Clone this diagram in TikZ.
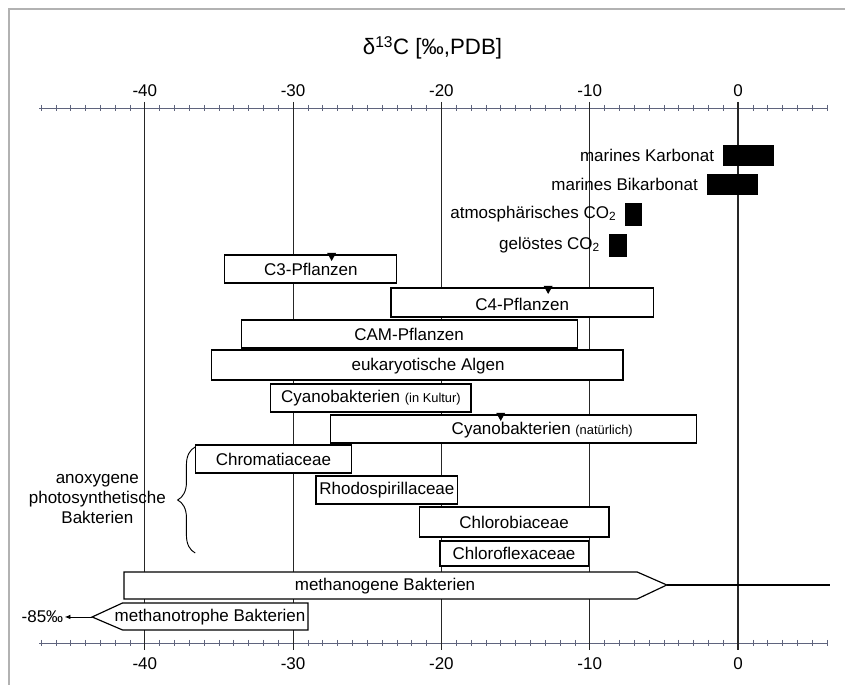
\documentclass[tikz,border=0pt]{standalone}
\usepackage{fontspec}
\setmainfont{Liberation Sans}
\usetikzlibrary{positioning,fit,decorations.pathreplacing,arrows.meta}
\definecolor{achse}{RGB}{95,100,125}
\newcommand{\klein}{\fontsize{11}{13}\selectfont}

\begin{document}
\begin{tikzpicture}[x=0.4449cm,y=-0.03cm,
  bar/.style={draw=black,line width=1pt,fill=white,inner sep=0pt},
  blk/.style={draw=black,fill=black,inner sep=0pt},
  lbl/.style={font=\fontsize{14.5}{17}\selectfont},
  spitze/.style={fill=black}]
\useasboundingbox (-49.764,0) rectangle (7.215,685);
\fill[white] (-49.764,0) rectangle (7.215,685);
% Rahmen
\draw[gray!60,line width=1.6pt] (-49.16,685) -- (-49.16,9) -- (7.215,9);
\node[font=\fontsize{19}{22}\selectfont] (titel) at (-20.6,48) {δ\textsuperscript{13}C [‰,PDB]};
% Achsen
\draw[achse,line width=0.8pt] (-47.1,108) -- (6.1,108);
\draw[achse,line width=0.8pt] (-47.1,643) -- (6.1,643);
\foreach \t in {-47,...,6} {
  \draw[achse,line width=0.5pt] (\t,105) -- (\t,111);
  \draw[achse,line width=0.5pt] (\t,640) -- (\t,646);
}
\foreach \t in {-40,-30,...,0} {
  \draw[gray!30!black,line width=0.9pt] (\t,102) -- (\t,650);
  \node[lbl] (oben\t) at (\t,91) {\t};
  \node[lbl] (unten\t) at (\t,664) {\t};
}
% Karbonat und CO2
\node[blk,fit={(-1.0,145) (2.35,165)}] (karb) {};
\node[lbl,left=4pt of karb] (karbT) {marines Karbonat};
\node[blk,fit={(-2.1,174) (1.3,194)}] (bikarb) {};
\node[lbl,left=4pt of bikarb] (bikarbT) {marines Bikarbonat};
\node[blk,fit={(-7.6,203) (-6.5,225)}] (atmo) {};
\node[lbl,left=4pt of atmo] (atmoT) {atmosphärisches CO\textsubscript{2}};
\node[blk,fit={(-8.7,234) (-7.55,256)}] (geloest) {};
\node[lbl,left=4pt of geloest] (geloestT) {gelöstes CO\textsubscript{2}};
% Pflanzen und Algen
\node[bar,fit={(-34.6,255) (-23.0,283)}] (c3) {};
\node[lbl] (c3T) at (c3.center) {C3-Pflanzen};
\node[bar,fit={(-23.4,288) (-5.7,317)}] (c4) {};
\node[lbl] (c4T) at ([yshift=-2pt]c4.center) {C4-Pflanzen};
\node[bar,fit={(-33.5,320) (-10.85,348)}] (cam) {};
\node[lbl] (camT) at (cam.center) {CAM-Pflanzen};
\node[bar,fit={(-35.5,350) (-7.75,380)}] (algen) {};
\node[lbl] (algenT) at (-20.9,366) {eukaryotische Algen};
\node[bar,fit={(-31.5,384) (-18.0,412)}] (cyk) {};
\node[lbl] (cykT) at (cyk.center) {Cyanobakterien {\klein (in Kultur)}};
\node[bar,fit={(-27.5,415) (-2.8,443)}] (cyn) {};
\node[lbl] (cynT) at (-13.2,430) {Cyanobakterien {\klein (natürlich)}};
\foreach \m/\y in {-27.4/255,-12.8/288,-16.0/415}
  \fill[spitze] (\m-0.3,\y-2) -- (\m+0.3,\y-2) -- (\m,\y+6) -- cycle;
% Bakterien
\node[bar,fit={(-36.6,445) (-26.05,473)}] (chrom) {};
\node[lbl] (chromT) at (chrom.center) {Chromatiaceae};
\node[bar,fit={(-28.45,476) (-18.9,504)}] (rhodo) {};
\node[lbl] (rhodoT) at (rhodo.center) {Rhodospirillaceae};
\node[bar,fit={(-21.5,507) (-8.7,537)}] (chlb) {};
\node[lbl] (chlbT) at (chlb.center) {Chlorobiaceae};
\node[bar,fit={(-20.1,541) (-10.1,566)}] (chlf) {};
\node[lbl] (chlfT) at (chlf.center) {Chloroflexaceae};
\draw[decorate,decoration={brace,amplitude=15pt},line width=0.8pt] (-36.6,553) -- (-36.6,447);
\node[lbl,align=center] (anox) at (-43.2,499) {anoxygene\\photosynthetische\\Bakterien};
% methanogen / methanotroph
\coordinate (mgSpitze) at (-4.8,585);
\coordinate (mgEnde) at (6.2,585);
\draw[bar] (-41.4,572) -- (-6.8,572) -- (mgSpitze) -- (-6.8,599) -- (-41.4,599) -- cycle;
\draw[line width=1.3pt] (mgSpitze) -- (mgEnde);
\node[lbl] (mgT) at (-23.8,586) {methanogene Bakterien};
\coordinate (mtSpitze) at (-43.55,617);
\draw[bar] (-29,603) -- (-41.5,603) -- (mtSpitze) -- (-41.5,630) -- (-29,630) -- cycle;
\node[lbl] (mtT) at (-35.6,617) {methanotrophe Bakterien};
\node[lbl,inner sep=1pt] (mt85) at (-46.9,617) {-85‰};
\draw[line width=0.8pt,-{Latex[length=5pt,width=4pt]}] (mtSpitze) -- (mt85.east);
\end{tikzpicture}
\end{document}
